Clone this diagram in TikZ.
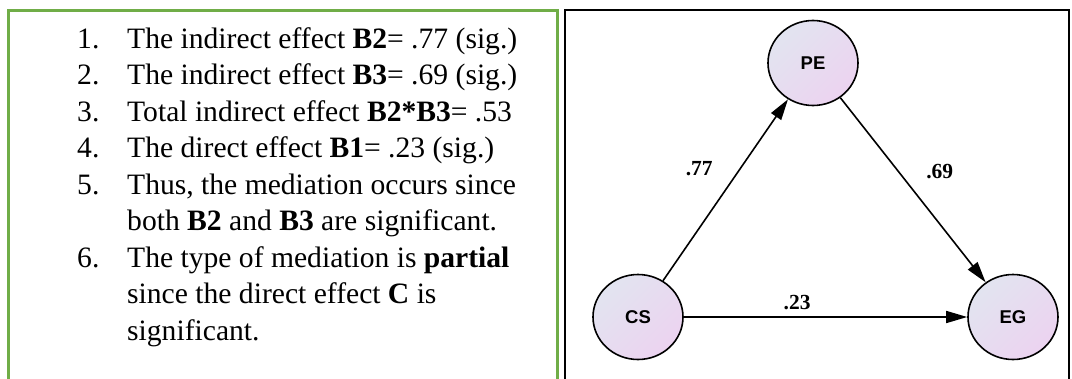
\documentclass[tikz,border=0pt]{standalone}
\usepackage{fontspec}
\setmainfont{Liberation Serif}
\newfontfamily\labelfont{Liberation Sans}
\usepackage{xcolor}
\usepackage{tikz}
\usetikzlibrary{shapes.geometric,arrows.meta}
\definecolor{boxgreen}{RGB}{112,173,71}
\definecolor{nodetop}{RGB}{226,228,240}
\definecolor{nodebot}{RGB}{236,211,240}
\begin{document}
\begin{tikzpicture}[x=1pt,y=-1pt,every node/.style={inner sep=0pt},
  itemtext/.style={anchor=base west,font=\fontsize{29.6}{35}\selectfont},
  var/.style={shape=ellipse,draw,line width=1.6pt,minimum width=90pt,minimum height=85pt,top color=nodetop,bottom color=nodebot,shading angle=45,font=\labelfont\bfseries\fontsize{18.5}{22}\selectfont},
  effect/.style={-{Triangle[length=21pt,width=12pt]},line width=1.6pt},
  coef/.style={font=\bfseries\fontsize{21.5}{25}\selectfont}]
      \useasboundingbox (0,0) rectangle (1072,378);
      \draw[boxgreen,line width=2.5pt] (8.5,380) -- (8.5,10.5) -- (557.5,10.5) -- (557.5,380);
      \draw[line width=2pt] (564.5,380) -- (564.5,9.5) -- (1069,9.5) -- (1069,380);
      \node[itemtext] (n1) at (77,48) {1.};
      \node[itemtext] (t1) at (127,48) {The indirect effect \textbf{B2}= .77 (sig.)};
      \node[itemtext] (n2) at (77,84.5) {2.};
      \node[itemtext] (t2) at (127,84.5) {The indirect effect \textbf{B3}= .69 (sig.)};
      \node[itemtext] (n3) at (77,121) {3.};
      \node[itemtext] (t3) at (127,121) {Total indirect effect \textbf{B2*B3}= .53};
      \node[itemtext] (n4) at (77,157.5) {4.};
      \node[itemtext] (t4) at (127,157.5) {The direct effect \textbf{B1}= .23 (sig.)};
      \node[itemtext] (n5) at (77,194) {5.};
      \node[itemtext] (t5) at (127,194) {Thus, the mediation occurs since};
      \node[itemtext] (t5b) at (127,230.5) {both \textbf{B2} and \textbf{B3} are significant.};
      \node[itemtext] (n6) at (77,267) {6.};
      \node[itemtext] (t6) at (127,267) {The type of mediation is \textbf{partial}};
      \node[itemtext] (t6b) at (127,303.5) {since the direct effect \textbf{C} is};
      \node[itemtext] (t6c) at (127,340) {significant.};
      \node[var] (PE) at (813,63) {PE};
      \node[var] (CS) at (638,317) {CS};
      \node[var] (EG) at (1013,317) {EG};
      \draw[effect] (CS) -- (PE) node[coef,pos=0.62,left=27pt] {.77};
      \draw[effect] (PE) -- (EG) node[coef,pos=0.4,right=27pt] {.69};
      \draw[effect] (CS) -- (EG) node[coef,pos=0.4,above=6pt] {.23};
\end{tikzpicture}
\end{document}
